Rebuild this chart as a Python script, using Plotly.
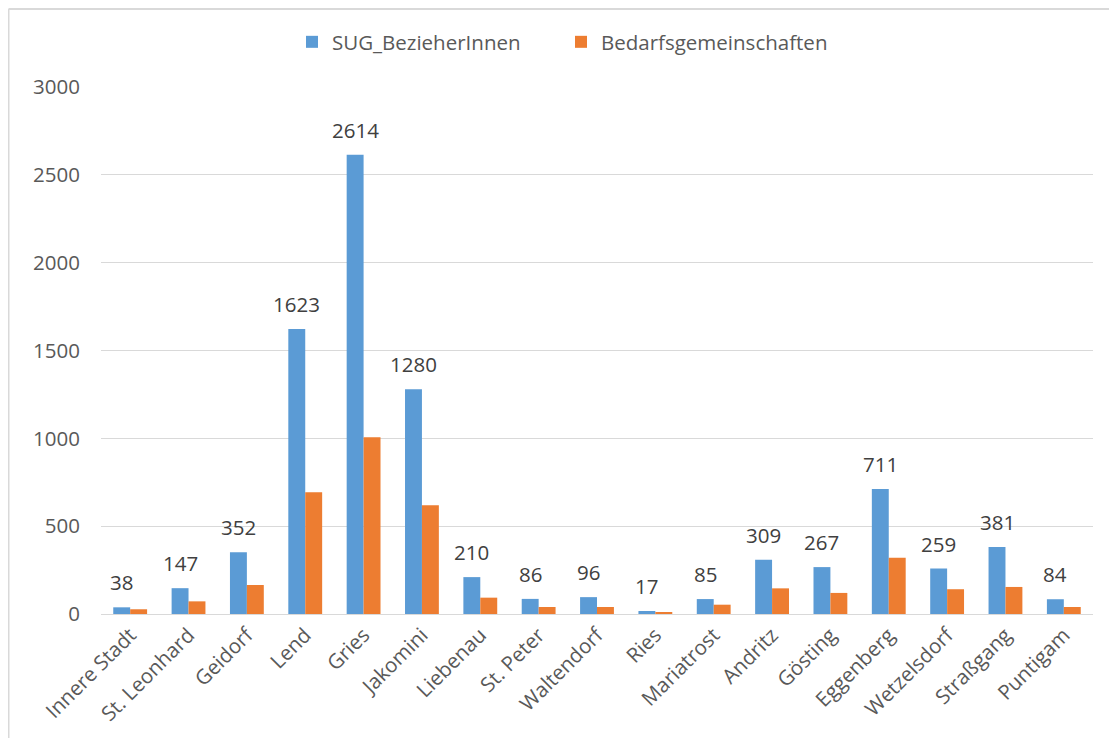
import plotly.graph_objects as go

bezirke = ["Innere Stadt", "St. Leonhard", "Geidorf", "Lend", "Gries", "Jakomini",
           "Liebenau", "St. Peter", "Waltendorf", "Ries", "Mariatrost", "Andritz",
           "Gösting", "Eggenberg", "Wetzelsdorf", "Straßgang", "Puntigam"]
sug_bezieher = [38, 147, 352, 1623, 2614, 1280, 210, 86, 96, 17, 85, 309, 267, 711, 259, 381, 84]
bedarfsgemeinschaften = [27, 72, 165, 693, 1006, 619, 93, 40, 40, 8, 53, 146, 120, 320, 141, 154, 40]

BLUE = "#5B9BD5"
ORANGE = "#ED7D31"
FONT = "Open Sans"
FS = 20.5

# page has an 8px body margin, so the figure is drawn from (8, 8)
W, H = 1109, 730
L, R, T, B = 93, 24, 79, 124

fig = go.Figure()
fig.add_trace(go.Bar(name="SUG_BezieherInnen", x=bezirke, y=sug_bezieher,
                     marker=dict(color=BLUE, line=dict(width=0))))
fig.add_trace(go.Bar(name="Bedarfsgemeinschaften", x=bezirke, y=bedarfsgemeinschaften,
                     marker=dict(color=ORANGE, line=dict(width=0))))

bargap = 0.42
plot_w = W - L - R
plot_h = H - T - B
cat_px = plot_w / len(bezirke)
bar_px = cat_px * (1 - bargap) / 2
for name, v in zip(bezirke, sug_bezieher):
    fig.add_annotation(x=name, y=v, text=str(v), showarrow=False,
                       xshift=-bar_px / 2, yshift=9, yanchor="bottom",
                       font=dict(family=FONT, size=FS, color="#404040"))

# outer chart frame (left and top edges visible)
fx = (0.5 - L) / plot_w
fy = (H - B - 1) / plot_h
fig.add_shape(type="line", xref="paper", yref="paper", x0=fx, x1=fx, y0=-1, y1=fy,
              line=dict(color="#D9D9D9", width=2))
fig.add_shape(type="line", xref="paper", yref="paper", x0=fx, x1=1.2, y0=fy, y1=fy,
              line=dict(color="#D9D9D9", width=2))

fig.update_layout(
    width=W, height=H,
    margin=dict(l=L, r=R, t=T, b=B, autoexpand=False),
    barmode="group", bargap=bargap, bargroupgap=0,
    plot_bgcolor="white", paper_bgcolor="white",
    font=dict(family=FONT, color="#595959"),
    showlegend=True,
    legend=dict(orientation="h", xref="container", yref="container",
                x=(306 - 8 - 14) / W, xanchor="left", y=1 - 34 / H, yanchor="middle",
                font=dict(family=FONT, size=FS, color="#595959"),
                itemwidth=30, traceorder="normal",
                entrywidth=224, entrywidthmode="pixels"),
)
fig.update_xaxes(showline=True, linecolor="#D9D9D9", linewidth=1, tickangle=-45,
                 tickfont=dict(family=FONT, size=FS, color="#595959"),
                 showgrid=False, ticks="")
fig.update_yaxes(range=[0, 3000], dtick=500, showgrid=True, gridcolor="#D9D9D9",
                 gridwidth=1, zeroline=False, ticks="", ticklabelstandoff=20,
                 tickfont=dict(family=FONT, size=FS, color="#595959"))

fig.write_html("out.html")
